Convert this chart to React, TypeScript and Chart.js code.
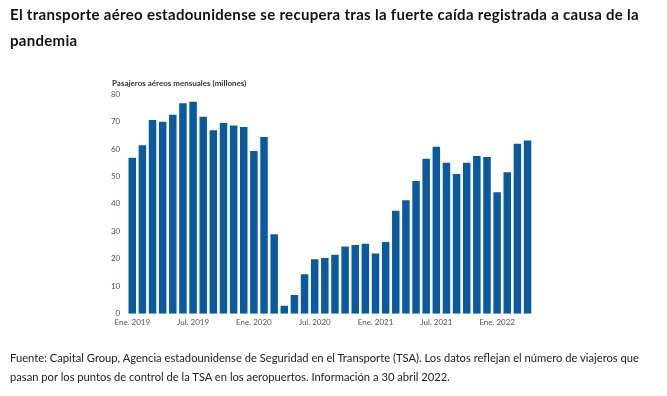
import React, { useEffect, useRef } from "react";
import { Chart, registerables } from "chart.js";

Chart.register(...registerables);

const months: string[] = [
  "Ene. 2019", "Feb. 2019", "Mar. 2019", "Abr. 2019", "May. 2019", "Jun. 2019",
  "Jul. 2019", "Ago. 2019", "Sep. 2019", "Oct. 2019", "Nov. 2019", "Dic. 2019",
  "Ene. 2020", "Feb. 2020", "Mar. 2020", "Abr. 2020", "May. 2020", "Jun. 2020",
  "Jul. 2020", "Ago. 2020", "Sep. 2020", "Oct. 2020", "Nov. 2020", "Dic. 2020",
  "Ene. 2021", "Feb. 2021", "Mar. 2021", "Abr. 2021", "May. 2021", "Jun. 2021",
  "Jul. 2021", "Ago. 2021", "Sep. 2021", "Oct. 2021", "Nov. 2021", "Dic. 2021",
  "Ene. 2022", "Feb. 2022", "Mar. 2022", "Abr. 2022",
];

const passengers: number[] = [
  56.8, 61.3, 70.5, 69.9, 72.4, 76.6, 77.2, 71.7, 66.8, 69.4, 68.5, 68.0,
  59.2, 64.3, 28.9, 2.9, 6.8, 14.4, 19.8, 20.3, 21.5, 24.5, 25.0, 25.5,
  21.9, 26.1, 37.5, 41.3, 48.3, 56.4, 60.8, 55.0, 50.9, 55.0, 57.4, 57.1,
  44.2, 51.5, 61.9, 63.1,
];

const yTicks: number[] = [0, 10, 20, 30, 40, 50, 60, 70, 80];

const titleText = "El transporte aéreo estadounidense se recupera tras la fuerte caída registrada a causa de la";
const titleText2 = "pandemia";
const axisTitle = "Pasajeros aéreos mensuales (millones)";
const note1 = "Fuente: Capital Group, Agencia estadounidense de Seguridad en el Transporte (TSA). Los datos reflejan el número de viajeros que";
const note2 = "pasan por los puntos de control de la TSA en los aeropuertos. Información a 30 abril 2022.";

const W = 667;
const H = 396;

export default function App() {
  const ref = useRef<HTMLCanvasElement | null>(null);

  useEffect(() => {
    document.body.style.margin = "0";
    const canvas = ref.current;
    if (!canvas) return;
    const chart = new Chart(canvas, {
      type: "bar",
      data: {
        labels: months,
        datasets: [
          {
            data: passengers,
            backgroundColor: "#0c5a9e",
            borderWidth: 0,
            barPercentage: 0.74,
            categoryPercentage: 1,
          },
        ],
      },
      options: {
        animation: false,
        responsive: false,
        maintainAspectRatio: false,
        layout: { padding: { left: 0, right: 134.4, top: 94, bottom: 62.3 } },
        plugins: { legend: { display: false }, tooltip: { enabled: false } },
        scales: {
          x: {
            grid: { display: false, drawTicks: false },
            border: { display: false },
            ticks: {
              autoSkip: false,
              maxRotation: 0,
              minRotation: 0,
              padding: 4,
              color: "#555",
              font: { family: "Lato", size: 8 },
              callback: (_v: any, i: number) => (i % 6 === 0 ? months[i] : ""),
            },
            afterFit: (s: any) => {
              s.height = 20;
            },
          },
          y: {
            min: yTicks[0],
            max: yTicks[yTicks.length - 1],
            grid: { display: false, drawTicks: false },
            border: { display: false },
            afterBuildTicks: (s: any) => {
              s.ticks = yTicks.map((v) => ({ value: v }));
            },
            ticks: {
              padding: 7,
              color: "#555",
              font: { family: "Lato", size: 8 },
            },
            afterFit: (s: any) => {
              s.width = 127.2;
            },
          },
        },
      },
    });
    return () => chart.destroy();
  }, []);

  return (
    <div style={{ position: "relative", width: W, height: H, background: "#fff", overflow: "hidden" }}>
      <canvas ref={ref} width={W} height={H} style={{ position: "absolute", left: 0, top: 0, width: W, height: H }} />
      <div
        style={{
          position: "absolute",
          left: 10,
          top: 1,
          fontFamily: "Lato",
          fontWeight: 700,
          fontSize: 15,
          letterSpacing: 0.3,
          lineHeight: "26px",
          color: "#111",
          whiteSpace: "nowrap",
        }}
      >
        {titleText}
        <br />
        {titleText2}
      </div>
      <div
        style={{
          position: "absolute",
          left: 112,
          top: 78,
          fontFamily: "Lato",
          fontWeight: 700,
          fontSize: 8,
          color: "#333",
          whiteSpace: "nowrap",
        }}
      >
        {axisTitle}
      </div>
      <div
        style={{
          position: "absolute",
          left: 10,
          top: 348,
          fontFamily: "Lato",
          fontSize: 11.2,
          lineHeight: "19px",
          color: "#222",
          whiteSpace: "nowrap",
        }}
      >
        {note1}
        <br />
        {note2}
      </div>
    </div>
  );
}
